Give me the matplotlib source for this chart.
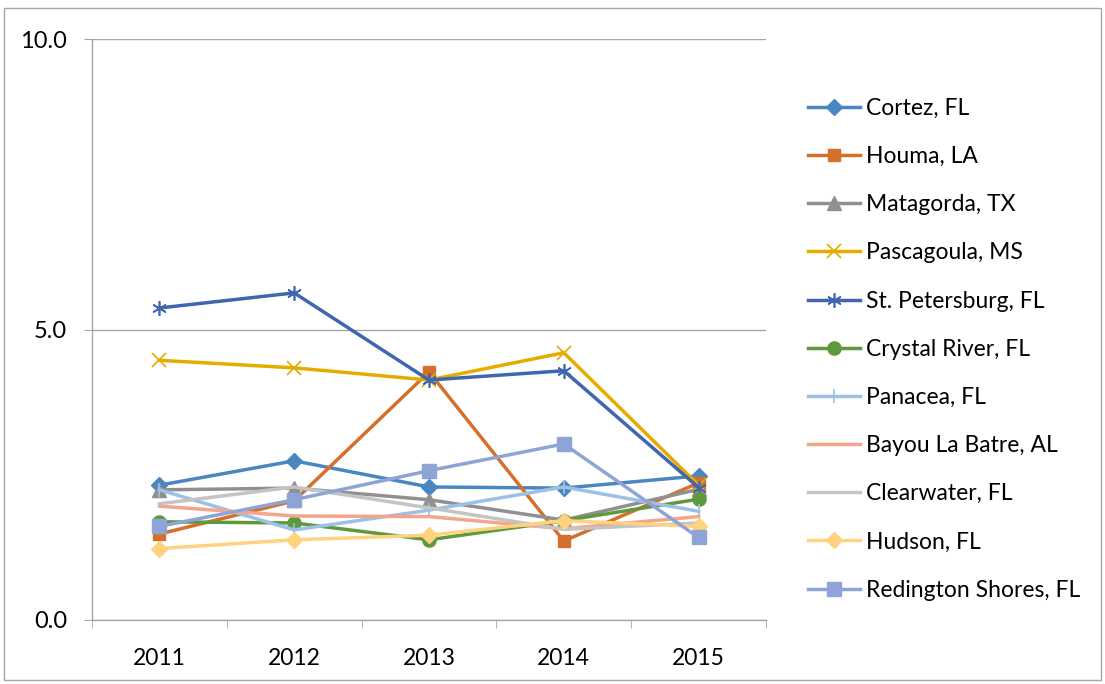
import matplotlib
matplotlib.use("Agg")
import matplotlib.pyplot as plt
from matplotlib.patches import Rectangle

years = ["2011", "2012", "2013", "2014", "2015"]

cortez = [2.32, 2.74, 2.29, 2.27, 2.48]
houma = [1.48, 2.05, 4.27, 1.36, 2.36]
matagorda = [2.24, 2.27, 2.07, 1.72, 2.25]
pascagoula = [4.47, 4.34, 4.13, 4.60, 2.32]
st_petersburg = [5.37, 5.63, 4.13, 4.29, 2.28]
crystal_river = [1.69, 1.67, 1.38, 1.71, 2.08]
panacea = [2.24, 1.55, 1.89, 2.29, 1.87]
bayou_la_batre = [1.96, 1.79, 1.78, 1.57, 1.78]
clearwater = [2.00, 2.29, 1.93, 1.56, 1.67]
hudson = [1.23, 1.38, 1.46, 1.71, 1.61]
redington_shores = [1.61, 2.07, 2.57, 3.03, 1.42]

series = [
    ("Cortez, FL", cortez, "#4A86C0", "D", 8.5),
    ("Houma, LA", houma, "#D4702C", "s", 9),
    ("Matagorda, TX", matagorda, "#909090", "^", 9.5),
    ("Pascagoula, MS", pascagoula, "#E5AC00", "x", 9.5),
    ("St. Petersburg, FL", st_petersburg, "#3F66AE", (6, 2, 0), 10.5),
    ("Crystal River, FL", crystal_river, "#5E9A3C", "o", 9.5),
    ("Panacea, FL", panacea, "#9DC0E6", "|", 10.5),
    ("Bayou La Batre, AL", bayou_la_batre, "#F2A68C", None, 0),
    ("Clearwater, FL", clearwater, "#C4C4C4", None, 0),
    ("Hudson, FL", hudson, "#FFD27F", "D", 8.5),
    ("Redington Shores, FL", redington_shores, "#8FA4D6", "s", 9.5),
]

plt.rcParams['font.family'] = ['Lato', 'DejaVu Sans']

fig = plt.figure(figsize=(11.05, 6.84), dpi=100)
ax = fig.add_axes([92/1105, 64/684, (766-92)/1105, (620-39)/684])

x = list(range(len(years)))
for name, vals, col, mk, ms in series:
    kw = dict(color=col, linewidth=2.5, label=name)
    if mk is not None:
        kw.update(marker=mk, markersize=ms, markerfacecolor=col, markeredgecolor=col,
                  markeredgewidth=1.2 if mk in ("x", "|", (6, 2, 0)) else 1)
    ax.plot(x, vals, **kw)

ax.set_xlim(-0.5, 4.5)
ax.set_ylim(0, 10)
ax.set_yticks([0, 5, 10])
ax.set_yticklabels(["0.0", "5.0", "10.0"])
ax.set_xticks(x)
ax.set_xticklabels(years)
ax.set_xticks([-0.5, 0.5, 1.5, 2.5, 3.5, 4.5], minor=True)
ax.tick_params(axis='x', which='major', length=0, pad=20, labelsize=16.5, colors='#000000')
ax.tick_params(axis='x', which='minor', length=6, color='#A6A6A6', direction='out')
ax.tick_params(axis='y', length=6, color='#A6A6A6', labelsize=17, pad=12)
ax.grid(axis='y', color='#A6A6A6', linewidth=1)
ax.set_axisbelow(True)
for s in ['top', 'right']:
    ax.spines[s].set_visible(False)
for s in ['left', 'bottom']:
    ax.spines[s].set_color('#A6A6A6')
    ax.spines[s].set_linewidth(1)

leg = fig.legend(loc='upper left', bbox_to_anchor=(808/1105, 1 - 98/684), frameon=False,
                 fontsize=16.5, handlelength=2.27, handletextpad=0.27, labelspacing=1.185,
                 borderaxespad=0, borderpad=0)

fig.patches.append(Rectangle((4/1105, 4/684), 1097/1105, 672/684, transform=fig.transFigure,
                             fill=False, edgecolor='#A6A6A6', linewidth=1))

fig.savefig("out.png", dpi=100)
